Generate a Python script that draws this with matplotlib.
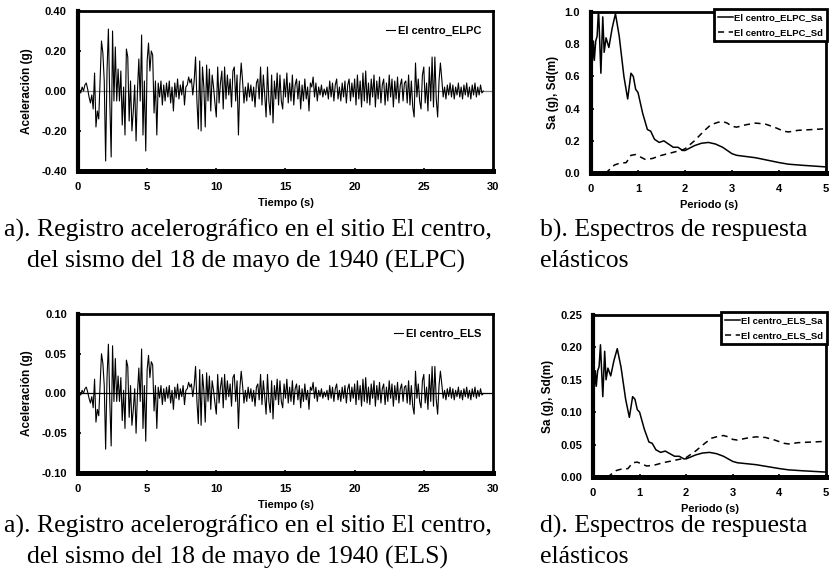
import numpy as np
import matplotlib.pyplot as plt

# Fuentes: etiquetas en sans estrecha negrita, textos de pie en serif
sans = ['Liberation Sans Narrow', 'Liberation Sans', 'DejaVu Sans']
serif = ['Liberation Serif', 'DejaVu Serif']

# Registro de aceleraciones (g), muestreado cada dt segundos
dt = 0.1
acc_elpc = [
    0.00, 0.01, -0.01, 0.02, 0.00, 0.03, 0.04, 0.01, -0.03, -0.06,
    -0.02, -0.09, 0.09, -0.18, -0.10, -0.14, 0.05, 0.25, 0.19, 0.05,
    -0.35, 0.10, 0.31, -0.05, -0.33, 0.30, -0.05, 0.22, -0.05, 0.11,
    -0.05, 0.10, -0.17, 0.02, -0.22, 0.21, 0.17, -0.15, 0.05, -0.20,
    -0.10, 0.03, -0.25, 0.00, 0.16, -0.05, 0.28, -0.22, 0.05, -0.30,
    0.15, 0.24, 0.10, 0.20, 0.18, -0.11, 0.05, -0.22, 0.04, -0.03,
    0.05, -0.07, 0.03, -0.05, 0.04, -0.03, 0.05, -0.06, 0.02, -0.10,
    0.04, -0.03, 0.06, -0.04, 0.03, -0.02, 0.05, -0.07, 0.02, 0.03,
    0.07, 0.04, 0.06, -0.02, 0.05, 0.17, -0.05, -0.19, 0.15, -0.20,
    0.12, 0.02, -0.18, 0.13, -0.05, 0.11, -0.10, 0.08, 0.02, -0.06,
    -0.13, 0.12, -0.06, 0.04, 0.10, -0.09, 0.12, -0.04, 0.08, -0.02,
    0.06, -0.08, 0.10, 0.12, -0.05, 0.08, -0.22, 0.03, 0.14, 0.05,
    -0.06, 0.02, -0.05, 0.04, -0.03, 0.03, -0.05, 0.02, -0.08, 0.04,
    0.06, -0.04, 0.12, -0.07, 0.08, -0.02, -0.13, 0.12, -0.05, -0.12,
    0.08, -0.16, 0.05, -0.04, 0.09, -0.07, 0.08, -0.05, -0.09, 0.06,
    -0.03, 0.09, -0.06, 0.04, -0.05, 0.08, -0.07, 0.03, 0.06, -0.04,
    0.05, -0.09, 0.03, -0.05, 0.06, -0.04, 0.02, -0.10, 0.04, 0.02,
    0.07, -0.03, 0.04, -0.05, 0.02, -0.02, 0.03, -0.03, 0.01, -0.02,
    0.02, -0.04, 0.05, -0.03, 0.04, -0.05, 0.03, 0.06, -0.04, 0.02,
    -0.05, 0.04, -0.03, 0.05, -0.06, 0.03, 0.06, -0.05, 0.04, -0.03,
    0.06, -0.07, 0.08, -0.04, 0.05, -0.08, 0.09, -0.05, 0.10, -0.06,
    0.04, -0.07, 0.06, -0.03, 0.08, -0.08, 0.05, -0.04, 0.07, -0.06,
    0.03, 0.06, -0.07, 0.04, -0.05, 0.08, -0.03, 0.06, -0.08, 0.05,
    -0.04, 0.07, -0.06, 0.03, 0.06, -0.05, 0.04, 0.05, -0.06, 0.08,
    -0.07, 0.05, -0.08, -0.13, 0.14, -0.03, 0.06, -0.05, -0.09, 0.08,
    0.12, -0.06, 0.04, -0.10, 0.12, -0.05, 0.17, -0.08, 0.17, -0.04,
    -0.13, 0.05, 0.14, 0.06, -0.03, 0.02, -0.04, 0.03, -0.02, 0.04,
    -0.03, 0.03, -0.04, 0.02, -0.02, 0.04, -0.03, 0.02, -0.04, 0.03,
    -0.02, 0.04, -0.03, 0.02, -0.04, 0.03, -0.02, 0.04, -0.03, 0.02,
    -0.02, 0.03, -0.01, 0.00,
]
acc_els = [
    0.000, 0.002, -0.002, 0.004, 0.000, 0.006, 0.008, 0.002, -0.006, -0.012,
    -0.004, -0.018, 0.018, -0.036, -0.020, -0.028, 0.010, 0.050, 0.038, 0.010,
    -0.070, 0.020, 0.062, -0.010, -0.066, 0.060, -0.010, 0.044, -0.010, 0.022,
    -0.010, 0.020, -0.034, 0.004, -0.044, 0.042, 0.034, -0.030, 0.010, -0.040,
    -0.020, 0.006, -0.050, 0.000, 0.032, -0.010, 0.056, -0.044, 0.010, -0.060,
    0.030, 0.048, 0.020, 0.040, 0.036, -0.022, 0.010, -0.044, 0.008, -0.006,
    0.010, -0.014, 0.006, -0.010, 0.008, -0.006, 0.010, -0.012, 0.004, -0.020,
    0.008, -0.006, 0.012, -0.008, 0.006, -0.004, 0.010, -0.014, 0.004, 0.006,
    0.014, 0.008, 0.012, -0.004, 0.010, 0.034, -0.010, -0.038, 0.030, -0.040,
    0.024, 0.004, -0.036, 0.026, -0.010, 0.022, -0.020, 0.016, 0.004, -0.012,
    -0.026, 0.024, -0.012, 0.008, 0.020, -0.018, 0.024, -0.008, 0.016, -0.004,
    0.012, -0.016, 0.020, 0.024, -0.010, 0.016, -0.044, 0.006, 0.028, 0.010,
    -0.012, 0.004, -0.010, 0.008, -0.006, 0.006, -0.010, 0.004, -0.016, 0.008,
    0.012, -0.008, 0.024, -0.014, 0.016, -0.004, -0.026, 0.024, -0.010, -0.024,
    0.016, -0.032, 0.010, -0.008, 0.018, -0.014, 0.016, -0.010, -0.018, 0.012,
    -0.006, 0.018, -0.012, 0.008, -0.010, 0.016, -0.014, 0.006, 0.012, -0.008,
    0.010, -0.018, 0.006, -0.010, 0.012, -0.008, 0.004, -0.020, 0.008, 0.004,
    0.014, -0.006, 0.008, -0.010, 0.004, -0.004, 0.006, -0.006, 0.002, -0.004,
    0.004, -0.008, 0.010, -0.006, 0.008, -0.010, 0.006, 0.012, -0.008, 0.004,
    -0.010, 0.008, -0.006, 0.010, -0.012, 0.006, 0.012, -0.010, 0.008, -0.006,
    0.012, -0.014, 0.016, -0.008, 0.010, -0.016, 0.018, -0.010, 0.020, -0.012,
    0.008, -0.014, 0.012, -0.006, 0.016, -0.016, 0.010, -0.008, 0.014, -0.012,
    0.006, 0.012, -0.014, 0.008, -0.010, 0.016, -0.006, 0.012, -0.016, 0.010,
    -0.008, 0.014, -0.012, 0.006, 0.012, -0.010, 0.008, 0.010, -0.012, 0.016,
    -0.014, 0.010, -0.016, -0.026, 0.028, -0.006, 0.012, -0.010, -0.018, 0.016,
    0.024, -0.012, 0.008, -0.020, 0.024, -0.010, 0.034, -0.016, 0.034, -0.008,
    -0.026, 0.010, 0.028, 0.012, -0.006, 0.004, -0.008, 0.006, -0.004, 0.008,
    -0.006, 0.006, -0.008, 0.004, -0.004, 0.008, -0.006, 0.004, -0.008, 0.006,
    -0.004, 0.008, -0.006, 0.004, -0.008, 0.006, -0.004, 0.008, -0.006, 0.004,
    -0.004, 0.006, -0.002, 0.000,
]

# Espectros de respuesta elásticos
per_sa = [0.02, 0.05, 0.07, 0.10, 0.13, 0.16, 0.19, 0.21, 0.25, 0.28, 0.32, 0.38,
          0.45, 0.52, 0.60, 0.70, 0.78, 0.85, 0.90, 0.95, 1.00, 1.10, 1.20, 1.27,
          1.35, 1.45, 1.55, 1.65, 1.75, 1.85, 1.95, 2.00, 2.20, 2.35, 2.50, 2.65,
          2.80, 3.00, 3.10, 3.50, 4.00, 4.20, 4.50, 5.00]
sa_elpc = [0.65, 0.82, 0.70, 0.82, 0.85, 1.02, 0.78, 0.62, 0.97, 0.75, 0.84, 0.78,
           0.90, 0.99, 0.85, 0.60, 0.46, 0.62, 0.60, 0.52, 0.50, 0.37, 0.27, 0.26,
           0.21, 0.19, 0.20, 0.18, 0.16, 0.16, 0.14, 0.14, 0.17, 0.185, 0.19, 0.18,
           0.16, 0.12, 0.11, 0.095, 0.065, 0.055, 0.048, 0.038]
sa_els = [0.130, 0.164, 0.140, 0.164, 0.170, 0.204, 0.156, 0.124, 0.194, 0.150, 0.168, 0.156,
          0.180, 0.198, 0.170, 0.120, 0.092, 0.124, 0.120, 0.104, 0.100, 0.074, 0.054, 0.052,
          0.042, 0.038, 0.040, 0.036, 0.032, 0.032, 0.028, 0.028, 0.034, 0.037, 0.038, 0.036,
          0.032, 0.024, 0.022, 0.019, 0.013, 0.011, 0.0096, 0.0076]

per_sd = [0.30, 0.35, 0.50, 0.60, 0.75, 0.85, 0.95, 1.05, 1.15, 1.30, 1.50, 1.70,
          1.90, 2.00, 2.20, 2.40, 2.55, 2.70, 2.80, 2.90, 3.00, 3.10, 3.30, 3.50,
          3.70, 3.90, 4.10, 4.20, 4.40, 4.70, 5.00]
sd_elpc = [0.00, 0.01, 0.05, 0.06, 0.065, 0.11, 0.115, 0.10, 0.085, 0.09, 0.11, 0.125,
           0.14, 0.15, 0.20, 0.26, 0.30, 0.315, 0.32, 0.31, 0.29, 0.285, 0.30, 0.31,
           0.305, 0.285, 0.26, 0.255, 0.265, 0.27, 0.275]
sd_els = [0.000, 0.002, 0.010, 0.012, 0.013, 0.022, 0.023, 0.020, 0.017, 0.018, 0.022, 0.025,
          0.028, 0.030, 0.040, 0.052, 0.060, 0.063, 0.064, 0.062, 0.058, 0.057, 0.060, 0.062,
          0.061, 0.057, 0.052, 0.051, 0.053, 0.054, 0.055]

acc_ticks_elpc = [-0.40, -0.20, 0.00, 0.20, 0.40]
acc_ticks_els = [-0.10, -0.05, 0.00, 0.05, 0.10]
sp_ticks_elpc = [0.0, 0.2, 0.4, 0.6, 0.8, 1.0]
sp_ticks_els = [0.00, 0.05, 0.10, 0.15, 0.20, 0.25]


def frame(ax):
    # Marco estilo Excel: izquierda y abajo más gruesas
    ax.spines['left'].set_linewidth(3.0)
    ax.spines['bottom'].set_linewidth(3.6)
    ax.spines['top'].set_linewidth(2.0)
    ax.spines['right'].set_linewidth(2.0)
    ax.tick_params(direction='in', length=2, width=1.2, pad=8,
                   labelsize=8)
    for lab in ax.get_xticklabels() + ax.get_yticklabels():
        lab.set_family(sans)
        lab.set_fontweight('bold')


def plot_acc(ax, acc, yticks, fmt, label, zero_color):
    t = np.arange(len(acc)) * dt
    ax.axhline(0, color=zero_color, lw=0.9, zorder=1)
    ax.plot(t, acc, color='black', lw=0.8, label=label, zorder=2)
    ax.set_xlim(0, 30)
    ax.set_ylim(yticks[0], yticks[-1])
    ax.set_xticks([0, 5, 10, 15, 20, 25, 30])
    ax.set_yticks(yticks)
    ax.set_yticklabels([fmt.format(v) for v in yticks])
    ax.set_xlabel('Tiempo (s)', family=sans, fontweight='bold', fontsize=8, labelpad=4)
    ax.set_ylabel('Aceleración (g)', family=sans, fontweight='bold', fontsize=8.5, labelpad=6)
    frame(ax)
    ax.legend(loc='upper right', frameon=False, handlelength=0.8, handletextpad=0.2,
              prop={'family': sans, 'weight': 'bold', 'size': 8},
              bbox_to_anchor=(0.995, 0.97))


def plot_sp(ax, sa, sd, yticks, fmt, name):
    ax.plot(per_sa, sa, color='black', lw=1.1, label=name + '_Sa')
    ax.plot(per_sd, sd, color='black', lw=1.1, ls=(0, (4, 3)), label=name + '_Sd')
    ax.set_xlim(0, 5)
    ax.set_ylim(yticks[0], yticks[-1])
    ax.set_xticks([0, 1, 2, 3, 4, 5])
    ax.set_yticks(yticks)
    ax.set_yticklabels([fmt.format(v) for v in yticks])
    ax.set_xlabel('Periodo (s)', family=sans, fontweight='bold', fontsize=8, labelpad=4)
    ax.set_ylabel('Sa (g), Sd(m)', family=sans, fontweight='bold', fontsize=8.5, labelpad=4)
    frame(ax)
    leg = ax.legend(loc='upper right', bbox_to_anchor=(1.005, 1.02), fancybox=False,
                    edgecolor='black', framealpha=1, handlelength=1.6, handletextpad=0.1,
                    borderpad=0.45, labelspacing=0.65, borderaxespad=0,
                    prop={'family': sans, 'weight': 'bold', 'size': 6.8})
    leg.get_frame().set_linewidth(2.0)


fig = plt.figure(figsize=(8.33, 5.82), dpi=100)

ax_a = fig.add_axes([0.0936, 0.7062, 0.4982, 0.2749])
plot_acc(ax_a, acc_elpc, acc_ticks_elpc, '{:.2f}', 'El centro_ELPC', '#808080')

ax_b = fig.add_axes([0.7095, 0.7027, 0.2821, 0.2766])
plot_sp(ax_b, sa_elpc, sd_elpc, sp_ticks_elpc, '{:.1f}', 'El centro_ELPC')

ax_c = fig.add_axes([0.0936, 0.1873, 0.4982, 0.2732])
plot_acc(ax_c, acc_els, acc_ticks_els, '{:.2f}', 'El centro_ELS', 'black')

ax_d = fig.add_axes([0.7119, 0.1804, 0.2797, 0.2784])
plot_sp(ax_d, sa_els, sd_els, sp_ticks_els, '{:.2f}', 'El centro_ELS')

# Pies de figura
cap = dict(family=serif, fontsize=18.5, va='center', ha='left')
H = 582.0
fig.text(4 / 833, 1 - 230 / H, 'a). Registro acelerográfico en el sitio El centro,', **cap)
fig.text(27 / 833, 1 - 261 / H, 'del sismo del 18 de mayo de 1940 (ELPC)', **cap)
fig.text(540 / 833, 1 - 230 / H, 'b). Espectros de respuesta', **cap)
fig.text(540 / 833, 1 - 261 / H, 'elásticos', **cap)
fig.text(4 / 833, 1 - 526 / H, 'a). Registro acelerográfico en el sitio El centro,', **cap)
fig.text(27 / 833, 1 - 557 / H, 'del sismo del 18 de mayo de 1940 (ELS)', **cap)
fig.text(540 / 833, 1 - 526 / H, 'd). Espectros de respuesta', **cap)
fig.text(540 / 833, 1 - 557 / H, 'elásticos', **cap)

fig.savefig('out.png', dpi=100)
